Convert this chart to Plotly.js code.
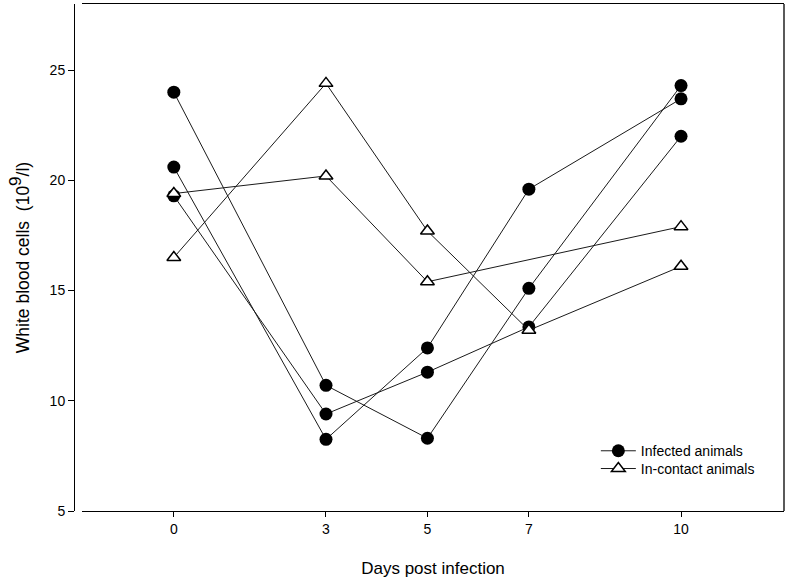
<!DOCTYPE html>
<html>
<head>
<meta charset="utf-8">
<script src="https://cdn.plot.ly/plotly-3.0.1.min.js"></script>
<style>html,body{margin:0;padding:0;background:#fff;}#chart{width:790px;height:584px;}</style>
</head>
<body>
<div id="chart"></div>
<script>
// Data
const days = [0, 3, 5, 7, 10];
const infectedA = [24.0, 10.7, 8.3, 15.1, 24.3];
const infectedB = [20.6, 8.25, 12.4, 19.6, 23.7];
const infectedC = [19.3, 9.4, 11.3, 13.35, 22.0];
const contactA = [16.5, 24.4, 17.7, 13.2, 16.1];
const contactB = [19.4, 20.2, 15.4, null, 17.9];
const xTicks = [0, 3, 5, 7, 10];
const yTicks = [5, 10, 15, 20, 25];
const seriesNames = ['Infected animals', 'In-contact animals'];

const FONT = 'Liberation Sans, Arial, Helvetica, sans-serif';
const lineStyle = {color: '#1a1a1a', width: 1};

function infectedTrace(vals, first) {
  return {
    x: days, y: vals, type: 'scatter', mode: 'lines+markers',
    name: seriesNames[0], legendgroup: 'inf', showlegend: first, legend: 'legend',
    line: lineStyle,
    marker: {symbol: 'circle', size: 13, color: '#000', line: {width: 0}}
  };
}
function contactTrace(vals, first) {
  return {
    x: days, y: vals, type: 'scatter', mode: 'lines+markers',
    name: seriesNames[1], legendgroup: 'con', showlegend: first, legend: 'legend2',
    connectgaps: true,
    line: lineStyle,
    marker: {symbol: 'triangle-up', size: 12, color: '#fff', line: {width: 1.5, color: '#000'}}
  };
}

const data = [
  infectedTrace(infectedA, true),
  infectedTrace(infectedB, false),
  infectedTrace(infectedC, false),
  contactTrace(contactA, true),
  contactTrace(contactB, false)
];

const legendBase = {
  x: 0.735, xanchor: 'left', yanchor: 'middle',
  bgcolor: 'rgba(0,0,0,0)', borderwidth: 0,
  font: {family: FONT, size: 14, color: '#000'},
  itemwidth: 35
};

const layout = {
  width: 790, height: 584,
  margin: {l: 74, r: 6, t: 4, b: 73},
  paper_bgcolor: '#fff', plot_bgcolor: '#fff',
  font: {family: FONT, size: 14, color: '#000'},
  showlegend: true,
  legend: Object.assign({}, legendBase, {y: 0.118}),
  legend2: Object.assign({}, legendBase, {y: 0.083}),
  xaxis: {
    domain: [0.0113, 1],
    range: [-1.81, 12.03],
    tickmode: 'array', tickvals: xTicks, ticktext: xTicks.map(String),
    ticks: 'outside', ticklen: 5, tickwidth: 1, tickcolor: '#000',
    showline: true, linecolor: '#000', linewidth: 1.3, mirror: true,
    showgrid: false, zeroline: false,
    tickfont: {family: FONT, size: 14, color: '#000'},
    title: {text: 'Days post infection', font: {family: FONT, size: 17, color: '#000'}, standoff: 26}
  },
  yaxis: {
    anchor: 'free', position: 0,
    range: [5, 28],
    tickmode: 'array', tickvals: yTicks, ticktext: yTicks.map(String),
    ticks: 'outside', ticklen: 6, tickwidth: 1, tickcolor: '#000',
    showline: true, linecolor: '#000', linewidth: 1.3,
    showgrid: false, zeroline: false,
    tickfont: {family: FONT, size: 14, color: '#000'},
    title: {text: 'White blood cells  (10<sup><span style="font-size:17px">9</span></sup>/l)', font: {family: FONT, size: 17.5, color: '#000'}, standoff: 14}
  },
  shapes: [
    {type: 'line', xref: 'paper', yref: 'paper', x0: 1, x1: 1, y0: 0, y1: 1,
     line: {color: '#000', width: 1.3}}
  ]
};

Plotly.newPlot('chart', data, layout, {displayModeBar: false, staticPlot: true});
</script>
</body>
</html>
